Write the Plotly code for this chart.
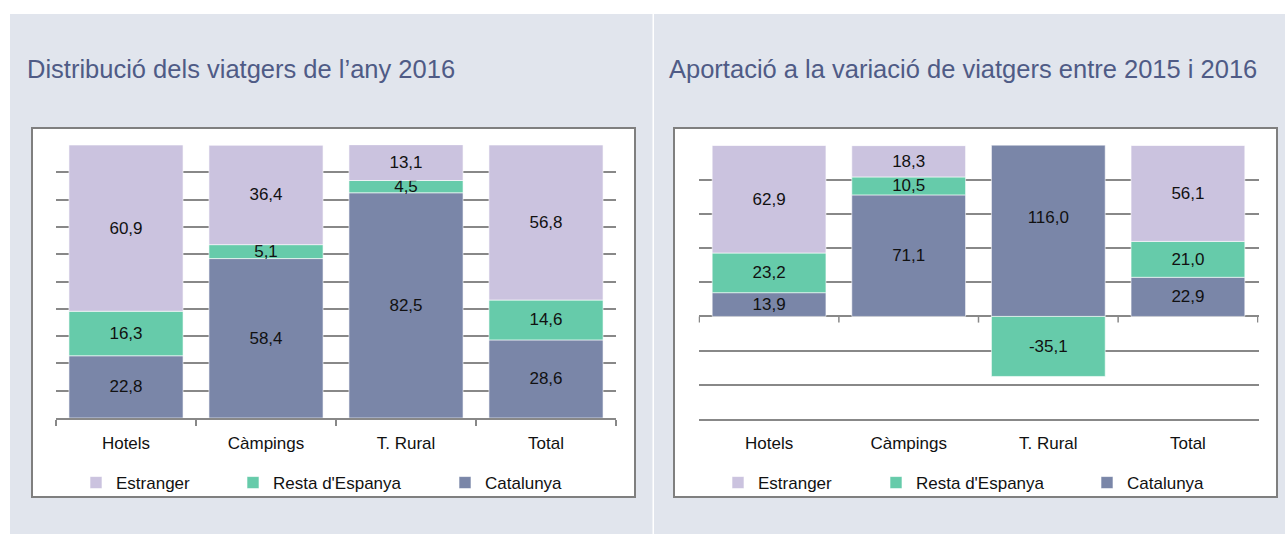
import plotly.graph_objects as go

# ---------------- data ----------------
categories = ["Hotels", "Càmpings", "T. Rural", "Total"]

# Distribució dels viatgers de l'any 2016 (%)
dist_catalunya = [22.8, 58.4, 82.5, 28.6]
dist_resta = [16.3, 5.1, 4.5, 14.6]
dist_estranger = [60.9, 36.4, 13.1, 56.8]

# Aportació a la variació de viatgers entre 2015 i 2016 (%)
apor_catalunya = [13.9, 71.1, 116.0, 22.9]
apor_resta = [23.2, 10.5, -35.1, 21.0]
apor_estranger = [62.9, 18.3, None, 56.1]

title_left = "Distribució dels viatgers de l’any 2016"
title_right = "Aportació a la variació de viatgers entre 2015 i 2016"

# ---------------- style ----------------
W, H = 1285, 534
colors = {"Estranger": "#cbc3df", "Resta d'Espanya": "#66cbaa", "Catalunya": "#7a86a8"}
panel_bg = "#e1e5ed"
grid_col = "#888888"
title_col = "#4f5b86"
FONT = "Liberation Sans, Arial, sans-serif"


def fx(px):
    return px / W


def fy(py):
    return 1 - py / H


fig = go.Figure()

left = [("Catalunya", dist_catalunya), ("Resta d'Espanya", dist_resta), ("Estranger", dist_estranger)]
right = [("Catalunya", apor_catalunya), ("Resta d'Espanya", apor_resta), ("Estranger", apor_estranger)]

legend_ids_left = {"Estranger": "legend", "Resta d'Espanya": "legend2", "Catalunya": "legend3"}
legend_ids_right = {"Estranger": "legend4", "Resta d'Espanya": "legend5", "Catalunya": "legend6"}

for name, vals in left:
    fig.add_trace(go.Bar(
        x=categories, y=vals, name=name, xaxis="x", yaxis="y",
        marker=dict(color=colors[name], line=dict(color="white", width=0.6)),
        texttemplate="%{y:.1f}", textposition="inside", insidetextanchor="middle",
        constraintext="none", textangle=0,
        textfont=dict(family=FONT, size=17, color="#111111"),
        legend=legend_ids_left[name], hoverinfo="skip",
    ))

for name, vals in right:
    fig.add_trace(go.Bar(
        x=categories, y=vals, name=name, xaxis="x2", yaxis="y2",
        marker=dict(color=colors[name], line=dict(color="white", width=0.6)),
        texttemplate="%{y:.1f}", textposition="inside", insidetextanchor="middle",
        constraintext="none", textangle=0,
        textfont=dict(family=FONT, size=17, color="#111111"),
        legend=legend_ids_right[name], hoverinfo="skip",
    ))

shapes = []
# panel backgrounds
shapes.append(dict(type="rect", xref="paper", yref="paper", x0=fx(10), x1=fx(652.5), y0=0, y1=fy(14),
                   fillcolor=panel_bg, line=dict(width=0), layer="below"))
shapes.append(dict(type="rect", xref="paper", yref="paper", x0=fx(654), x1=1, y0=0, y1=fy(14),
                   fillcolor=panel_bg, line=dict(width=0), layer="below"))
# chart boxes
for x0, x1 in [(32, 635), (674, 1277)]:
    shapes.append(dict(type="rect", xref="paper", yref="paper", x0=fx(x0), x1=fx(x1), y0=fy(497), y1=fy(128),
                       fillcolor="white", line=dict(color="#7f7f7f", width=2), layer="below"))
# tick marks on the zero line of the right chart, at category boundaries
for i in range(len(categories) + 1):
    shapes.append(dict(type="line", xref="x2", yref="y2", x0=i - 0.5, x1=i - 0.5, y0=0, y1=-3.6,
                       line=dict(color=grid_col, width=1.5)))

annotations = [
    dict(text=title_left, xref="paper", yref="paper", x=fx(25), y=fy(69), xanchor="left", yanchor="middle",
         showarrow=False, font=dict(family=FONT, size=25.5, color=title_col)),
    dict(text=title_right, xref="paper", yref="paper", x=fx(667), y=fy(69), xanchor="left", yanchor="middle",
         showarrow=False, font=dict(family=FONT, size=25.5, color=title_col)),
]

legend_text_x = {"legend": 116, "legend2": 273, "legend3": 485,
                 "legend4": 758, "legend5": 916, "legend6": 1127}
legends = {}
for lid, tx in legend_text_x.items():
    legends[lid] = dict(orientation="h", x=fx(tx - 40), xanchor="left", y=fy(483), yanchor="middle",
                        bgcolor="rgba(0,0,0,0)", font=dict(family=FONT, size=17, color="#111111"),
                        itemclick=False, itemdoubleclick=False)

axis_font = dict(family=FONT, size=17, color="#111111")

fig.update_layout(
    width=W, height=H, margin=dict(l=0, r=0, t=0, b=0),
    paper_bgcolor="white", plot_bgcolor="rgba(0,0,0,0)",
    barmode="relative", bargap=0.185, separators=",.",
    showlegend=True,
    xaxis=dict(domain=[fx(56), fx(616)], anchor="y", showline=True, linecolor=grid_col, linewidth=1.5,
               ticks="outside", tickson="boundaries", ticklen=6, tickcolor=grid_col, tickwidth=1.5,
               showgrid=False, tickfont=axis_font, ticklabelstandoff=9, fixedrange=True),
    yaxis=dict(domain=[fy(418), fy(145)], anchor="x", range=[0, 100], dtick=10, showticklabels=False,
               showgrid=True, gridcolor=grid_col, gridwidth=1.5, zeroline=False, ticks="", fixedrange=True),
    xaxis2=dict(domain=[fx(698.5), fx(1258.5)], anchor="y2", showline=True, linecolor=grid_col, linewidth=1.5,
                ticks="", showgrid=False, tickfont=axis_font, ticklabelstandoff=8, fixedrange=True),
    yaxis2=dict(domain=[fy(419), fy(145.5)], anchor="x2", range=[-60, 100], dtick=20, showticklabels=False,
                showgrid=True, gridcolor=grid_col, gridwidth=1.5, zeroline=True, zerolinecolor=grid_col,
                zerolinewidth=1.5, ticks="", fixedrange=True),
    shapes=shapes, annotations=annotations,
    **legends,
)

fig.write_html("out.html", config={"displayModeBar": False},
               post_script="document.body.style.margin='0';")
